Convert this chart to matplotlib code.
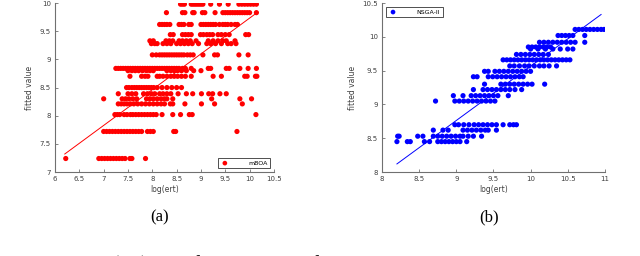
#!/usr/bin/env python3
"""log(ert) vs fitted value scatter for mBOA (a) and NSGA-II (b)."""
import matplotlib
matplotlib.use("Agg")
import matplotlib.pyplot as plt
import numpy as np

# --- (a) mBOA: fitted-value levels and the log(ert) points on each level
mboa_levels = {
    9.98: [8.58, 8.62, 8.66, 8.8, 8.84, 8.88, 8.92, 8.96, 9.0, 9.04, 9.2, 9.38,
           9.56, 9.78, 9.84, 9.9, 9.96, 10.02, 10.08, 10.14],
    9.83: [8.29, 8.62, 8.67, 8.83, 8.86, 9.03, 9.08, 9.29, 9.45, 9.5, 9.55, 9.6,
           9.65, 9.7, 9.75, 9.8, 9.85, 9.9, 9.95, 10.0, 10.14],
    9.62: [8.15, 8.2, 8.25, 8.3, 8.36, 8.55, 8.6, 8.65, 8.75, 8.8, 9.0, 9.05, 9.1,
           9.15, 9.2, 9.25, 9.3, 9.38, 9.45, 9.5, 9.55, 9.62, 9.7, 9.75],
    9.44: [8.37, 8.43, 8.62, 8.68, 8.74, 8.8, 8.99, 9.05, 9.12, 9.18, 9.24, 9.35,
           9.42, 9.5, 9.58, 9.92, 9.98],
    9.33: [7.95, 8.02, 8.28, 8.35, 8.42, 8.55, 8.62, 8.7, 8.78, 8.9, 9.15, 9.25,
           9.35, 9.45, 9.52, 9.7],
    9.28: [7.98, 8.05, 8.1, 8.22, 8.3, 8.38, 8.5, 8.58, 8.66, 8.74, 8.82, 8.95,
           9.12, 9.2, 9.3, 9.42, 9.55, 9.62, 9.72],
    9.08: [8.0, 8.08, 8.15, 8.2, 8.25, 8.3, 8.35, 8.4, 8.45, 8.5, 8.55, 8.6, 8.65,
           8.72, 8.78, 8.84, 9.04, 9.28, 9.34, 9.78, 9.97],
    8.84: [7.25, 7.3, 7.35, 7.4, 7.45, 7.5, 7.55, 7.6, 7.65, 7.7, 7.75, 7.8, 7.85,
           7.9, 7.95, 8.0, 8.05, 8.1, 8.15, 8.2, 8.25, 8.3, 8.35, 8.4, 8.45, 8.5,
           8.55, 8.62, 8.68, 8.8, 9.15, 9.2, 9.52, 9.58, 9.8, 9.97, 10.14],
    8.80: [7.5, 7.58, 7.65, 7.72, 7.8, 7.88, 7.95, 8.02, 8.3, 8.38, 8.45, 8.52,
           8.6, 8.7, 8.85, 9.0],
    8.70: [7.54, 7.78, 7.85, 7.91, 8.1, 8.15, 8.22, 8.3, 8.38, 8.45, 8.52, 8.6,
           8.68, 8.8, 9.25, 9.42, 9.9, 9.95, 10.12, 10.15],
    8.50: [7.47, 7.52, 7.58, 7.63, 7.68, 7.73, 7.78, 7.83, 7.88, 7.93, 7.98, 8.03,
           8.1, 8.2, 8.3, 8.4, 8.5, 8.6],
    8.39: [7.3, 7.5, 7.58, 7.66, 7.82, 7.9, 7.98, 8.05, 8.15, 8.22, 8.3, 8.38,
           8.53, 8.7, 8.83, 9.01, 9.16, 9.24, 9.39, 9.52],
    8.30: [7.0, 7.38, 7.45, 7.52, 7.6, 7.68, 7.88, 7.95, 8.02, 8.1, 8.18, 8.25,
           8.3, 8.42, 9.22, 9.8, 10.04],
    8.21: [7.3, 7.36, 7.42, 7.48, 7.55, 7.62, 7.7, 7.78, 7.86, 7.94, 8.02, 8.1,
           8.18, 8.25, 8.37, 8.42, 8.67, 9.01, 9.28, 9.85],
    8.02: [7.23, 7.28, 7.33, 7.42, 7.48, 7.55, 7.6, 7.66, 7.72, 7.78, 7.84, 7.9,
           7.96, 8.02, 8.08, 8.2, 8.42, 8.58, 8.76, 8.82, 10.13],
    7.72: [7.0, 7.06, 7.12, 7.18, 7.24, 7.3, 7.36, 7.42, 7.48, 7.54, 7.6, 7.66,
           7.72, 7.78, 7.9, 7.96, 8.02, 8.44, 8.48, 9.74],
    7.24: [6.22, 6.9, 6.96, 7.02, 7.08, 7.14, 7.2, 7.26, 7.32, 7.38, 7.44, 7.54,
           7.58, 7.86],
}
mboa_fit_x = [6.2, 10.15]
mboa_fit = (0.635, 3.383)  # slope, intercept

# --- (b) NSGA-II
nsga_levels = {
    10.11: [10.6, 10.65, 10.7, 10.75, 10.8, 10.85, 10.9, 10.95, 10.99],
    10.02: [10.37, 10.42, 10.47, 10.52, 10.57, 10.73],
    9.92: [10.12, 10.18, 10.24, 10.3, 10.36, 10.42, 10.48, 10.54, 10.6, 10.73],
    9.85: [9.97, 10.02, 10.07, 10.12, 10.17, 10.22, 10.27],
    9.82: [10.0, 10.1, 10.2, 10.3, 10.4, 10.5, 10.57],
    9.74: [9.81, 9.87, 9.93, 9.99, 10.05, 10.11, 10.17, 10.24],
    9.66: [9.63, 9.68, 9.73, 9.78, 9.83, 9.88, 9.93, 9.98, 10.03, 10.08, 10.13,
           10.18, 10.23, 10.28, 10.33, 10.38, 10.43, 10.48, 10.53],
    9.57: [9.72, 9.78, 9.85, 9.92, 9.98, 10.05, 10.12, 10.18, 10.25, 10.35],
    9.49: [9.38, 9.43, 9.52, 9.58, 9.64, 9.7, 9.76, 9.82, 9.88, 9.94, 10.0],
    9.41: [9.23, 9.28, 9.43, 9.49, 9.55, 9.61, 9.67, 9.73, 9.79, 9.85, 9.9],
    9.30: [9.38, 9.6, 9.66, 9.72, 9.78, 9.84, 9.9, 9.96, 10.02, 10.19],
    9.22: [9.23, 9.36, 9.42, 9.48, 9.54, 9.6, 9.66, 9.72, 9.79, 9.88],
    9.13: [8.96, 9.09, 9.2, 9.26, 9.32, 9.38, 9.44, 9.5, 9.56, 9.7],
    9.05: [8.72, 8.98, 9.04, 9.1, 9.16, 9.22, 9.28, 9.34, 9.4, 9.46, 9.52],
    8.70: [8.98, 9.03, 9.1, 9.17, 9.24, 9.3, 9.36, 9.42, 9.48, 9.54, 9.63, 9.72,
           9.77, 9.81],
    8.62: [8.69, 8.82, 8.89, 9.09, 9.15, 9.21, 9.27, 9.33, 9.39, 9.43, 9.54],
    8.53: [8.21, 8.23, 8.48, 8.55, 8.69, 8.75, 8.81, 8.87, 8.93, 8.99, 9.05, 9.09,
           9.16, 9.23, 9.34],
    8.45: [8.2, 8.34, 8.38, 8.57, 8.64, 8.75, 8.8, 8.85, 8.9, 8.95, 9.0, 9.05,
           9.14],
}
nsga_fit_x = [8.2, 10.95]
nsga_fit = (0.804, 1.527)

mboa_xticks = [6, 6.5, 7, 7.5, 8, 8.5, 9, 9.5, 10, 10.5]
mboa_yticks = [7, 7.5, 8, 8.5, 9, 9.5, 10]
nsga_xticks = [8, 8.5, 9, 9.5, 10, 10.5, 11]
nsga_yticks = [8, 8.5, 9, 9.5, 10, 10.5]


def flatten(levels):
    xs, ys = [], []
    for y, row in levels.items():
        xs += row
        ys += [y] * len(row)
    return np.array(xs), np.array(ys)


def style_axes(ax, xticks, yticks):
    for s in ("top", "right"):
        ax.spines[s].set_visible(False)
    for s in ("left", "bottom"):
        ax.spines[s].set_color("#707070")
        ax.spines[s].set_linewidth(0.8)
    ax.set_xticks(xticks)
    ax.set_yticks(yticks)
    ax.set_xticklabels([f"{t:g}" for t in xticks])
    ax.set_yticklabels([f"{t:g}" for t in yticks])
    ax.set_xlim(xticks[0], xticks[-1])
    ax.set_ylim(yticks[0], yticks[-1])
    ax.tick_params(direction="in", length=2, width=0.6, color="#707070",
                   labelsize=5, labelcolor="#404040", pad=3)
    ax.set_xlabel("log(ert)", fontsize=5.5, color="#404040", labelpad=2)
    ax.set_ylabel("fitted value", fontsize=5.5, color="#404040", labelpad=4)


def panel(ax, levels, fit_x, fit, color, label, loc, xticks, yticks):
    x, y = flatten(levels)
    ax.scatter(x, y, s=14, color=color, edgecolors="none", label=label, zorder=3)
    fx = np.array(fit_x)
    ax.plot(fx, fit[0] * fx + fit[1], color=color, lw=0.7, zorder=2)
    style_axes(ax, xticks, yticks)
    leg = ax.legend(loc=loc, fontsize=4.5, frameon=True, fancybox=False,
                    borderpad=0.4, handletextpad=3, handlelength=1.5,
                    markerscale=0.9, borderaxespad=0.6)
    leg.get_frame().set_edgecolor("black")
    leg.get_frame().set_linewidth(0.6)


fig = plt.figure(figsize=(6.4, 2.56), dpi=100)
ax_a = fig.add_axes([0.086, 0.328, 0.342, 0.66])
ax_b = fig.add_axes([0.597, 0.328, 0.348, 0.66])

panel(ax_a, mboa_levels, mboa_fit_x, mboa_fit, "#ff0000", "mBOA",
      "lower right", mboa_xticks, mboa_yticks)
panel(ax_b, nsga_levels, nsga_fit_x, nsga_fit, "#0000ff", "NSGA-II",
      "upper left", nsga_xticks, nsga_yticks)

serif = ["Liberation Serif", "DejaVu Serif"]
fig.text(0.25, 0.152, "(a)", ha="center", va="center", fontsize=12, family=serif)
fig.text(0.764, 0.152, "(b)", ha="center", va="center", fontsize=12, family=serif)
# caption line below the panels, cut by the bottom edge as in the source page
fig.text(-0.002, -0.035, "Figure 1:  log(ert)  vs.  fitted  values  for  the  models  with  initial",
         ha="left", va="center", fontsize=15, family=serif)

fig.savefig("out.png", dpi=100)
